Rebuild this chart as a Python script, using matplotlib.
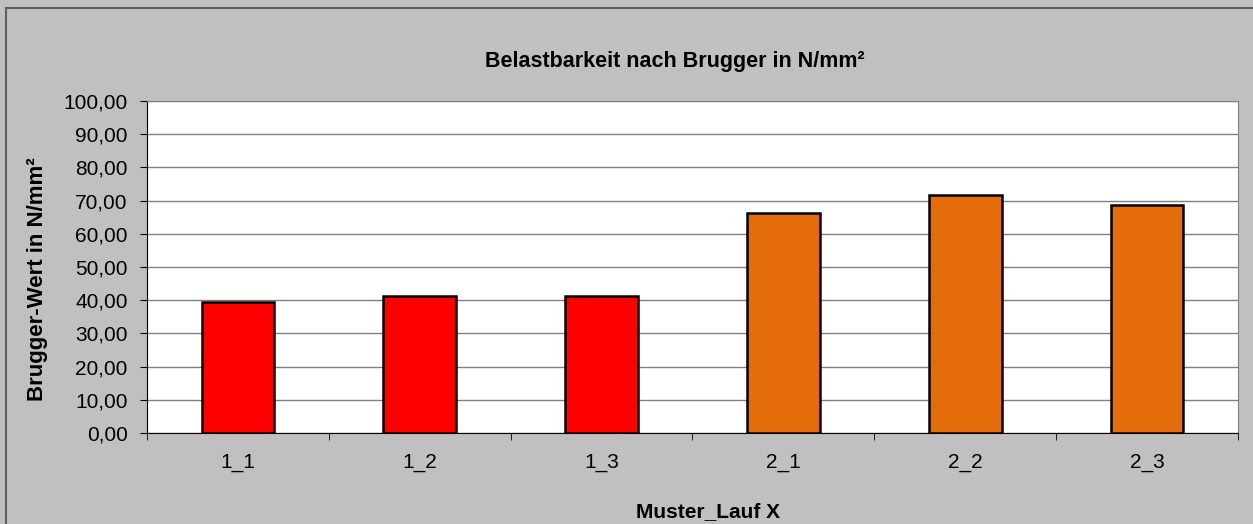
import matplotlib.pyplot as plt
import numpy as np
from matplotlib.patches import Rectangle
from matplotlib.ticker import FuncFormatter

plt.rcParams['font.family'] = ['Liberation Sans', 'DejaVu Sans']

categories = ['1_1', '1_2', '1_3', '2_1', '2_2', '2_3']
values = [39.5, 41.2, 41.2, 66.3, 71.6, 68.6]
colors = ['#FF0000', '#FF0000', '#FF0000', '#E46C0A', '#E46C0A', '#E46C0A']

W, H = 1253, 524
fig = plt.figure(figsize=(W / 100, H / 100), dpi=100)
fig.patch.set_facecolor('#C0C0C0')
fig.patches.append(Rectangle((6 / W, -0.1), 1.1, (H - 8) / H + 0.1,
                             transform=fig.transFigure, fill=False,
                             edgecolor='#606060', linewidth=1.5))

ax = fig.add_axes([147 / W, 91 / H, (1238 - 147) / W, (433 - 101) / H])
ax.set_facecolor('white')

x = np.arange(len(categories))
ax.bar(x, values, width=0.4, color=colors, edgecolor='black', linewidth=1.8, zorder=3)

ax.set_xlim(-0.5, len(categories) - 0.5)
ax.set_ylim(0, 100)
ax.set_yticks(np.arange(0, 101, 10))
ax.yaxis.set_major_formatter(FuncFormatter(lambda v, p: f'{v:.2f}'.replace('.', ',')))
ax.grid(axis='y', color='#808080', linewidth=1, zorder=0)

ax.set_xticks(x)
ax.set_xticklabels(categories)
ax.set_xticks(np.arange(-0.5, len(categories), 1), minor=True)
ax.tick_params(axis='x', which='major', length=0, labelsize=15, pad=14.5)
ax.tick_params(axis='x', which='minor', length=5, direction='out', color='black')
ax.tick_params(axis='y', length=5, direction='out', labelsize=15, color='black', pad=9)

for side in ['top', 'right']:
    ax.spines[side].set_color('#808080')
for side in ['left', 'bottom']:
    ax.spines[side].set_color('black')

fig.text(675 / W, 1 - 67 / H, 'Belastbarkeit nach Brugger in N/mm²',
         fontsize=15.5, fontweight='bold', ha='center', va='baseline')
fig.text(708 / W, 1 - 517 / H, 'Muster_Lauf X',
         fontsize=15, fontweight='bold', ha='center', va='baseline')
fig.text(38 / W, 1 - 279 / H, 'Brugger-Wert in N/mm²', rotation=90,
         fontsize=16, fontweight='bold', ha='center', va='center')

fig.savefig('out.png', dpi=100, facecolor=fig.get_facecolor())
